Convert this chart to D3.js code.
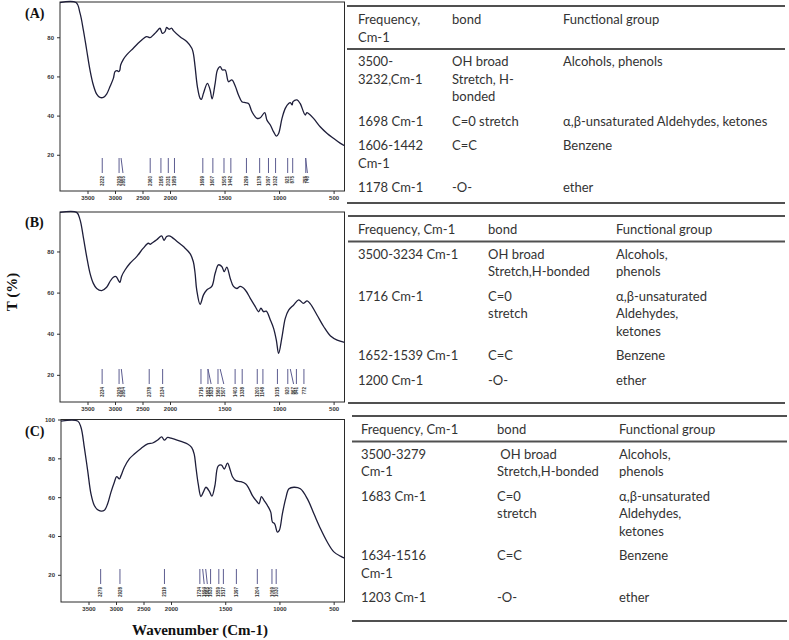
<!DOCTYPE html>
<html>
<head>
<meta charset="utf-8">
<script src="https://cdn.jsdelivr.net/npm/d3@7"></script>
<style>
  body { margin: 0; background: #fff; }
  svg text { font-family: Arial, "Liberation Sans", sans-serif; }
</style>
</head>
<body>
<script>
// ---- spectra, [wavenumber, T %] ----
var specA = [[4000,97.7],[3709,97.7],[3636,92.3],[3576,83.8],[3515,73.5],[3455,63.3],[3394,55.6],[3333,51],[3273,49.3],[3212,49.3],[3152,51],[3091,54.8],[3030,59],[3000,62.4],[2960,63],[2939,62.5],[2915,63],[2897,65.8],[2848,68.7],[2788,71],[2667,74.4],[2545,77.8],[2424,80.3],[2364,79.8],[2303,81.2],[2242,82.9],[2182,84.6],[2140,82],[2091,82.9],[2061,85],[2018,84.1],[1984,84.6],[1969,83.4],[1908,80.3],[1847,77.8],[1800,74.4],[1786,71.8],[1770,65],[1749,54.8],[1724,48.8],[1712,48.3],[1693,51.4],[1657,56.5],[1632,53.1],[1614,48.5],[1586,56.5],[1565,63.3],[1540,65],[1519,63.3],[1494,63.3],[1463,57.3],[1433,58.2],[1402,55.1],[1372,50.5],[1341,47.1],[1310,46.6],[1280,46.2],[1249,42],[1203,38.6],[1172,38.9],[1132,41.5],[1111,37.7],[1080,35.2],[1050,31.7],[1025,29.5],[1004,30.9],[973,38.6],[943,43.7],[912,46.2],[897,46.6],[880,45.5],[872,47.1],[835,48],[807,46.2],[760,40.3],[745,41.5],[730,41.1],[684,38.6],[623,34.3],[559,30.9],[498,28.3],[437,25.8],[400,24.6]];

var specB = [[4000,99],[3697,99],[3636,95.5],[3576,87],[3515,77.5],[3455,69.5],[3394,64.5],[3333,62],[3242,61],[3152,62.6],[3091,65.4],[3030,67.5],[2982,67.8],[2939,66],[2909,65],[2879,68],[2818,71],[2727,74.3],[2606,77.5],[2485,81.6],[2394,84],[2360,83.5],[2333,84],[2242,85.7],[2152,87.6],[2109,85.4],[2061,87.3],[2018,87.6],[1984,87],[1938,85],[1877,82.4],[1816,79],[1786,75],[1770,69.4],[1755,61.3],[1724,54.3],[1693,58.9],[1663,61.3],[1617,63],[1586,69.4],[1556,73.5],[1525,72.7],[1503,70.2],[1479,72.4],[1448,67],[1418,63],[1387,62],[1356,63],[1310,61.3],[1264,57.2],[1218,53.2],[1188,50.7],[1166,52.4],[1142,50.7],[1117,51],[1080,46.7],[1050,42.6],[1025,36.9],[1004,30.4],[973,38.5],[943,47.5],[912,51.5],[866,54],[820,56.5],[776,54.8],[743,56],[713,54.5],[651,49],[590,43.4],[528,38.9],[467,36.9],[400,35.8]];

var specC = [[4000,99.2],[3697,99.2],[3636,95.9],[3576,85.6],[3515,73.7],[3455,61.7],[3394,55.7],[3333,53.5],[3273,52.8],[3212,53.2],[3152,56.6],[3091,62.6],[3030,67.7],[2988,70.6],[2939,69.4],[2909,71.1],[2848,75.4],[2758,79.7],[2667,82.2],[2545,85.1],[2424,87.4],[2333,87.9],[2242,89.4],[2170,91.1],[2121,89.4],[2061,90.8],[2000,90.4],[1969,89.9],[1908,88.7],[1847,87.4],[1810,85.6],[1786,82.2],[1770,75.4],[1749,66.8],[1724,60.3],[1702,62.6],[1678,65.1],[1647,63.1],[1623,60.5],[1595,66],[1565,76],[1534,76.5],[1509,74.5],[1479,77.5],[1454,74],[1433,70.5],[1402,68.5],[1356,68],[1310,66.8],[1280,64.3],[1249,60.8],[1203,57.4],[1188,56.6],[1166,60.3],[1142,58.3],[1111,55.7],[1080,52.3],[1065,47.2],[1044,46.3],[1019,42],[1001,42.9],[973,51.4],[943,59.1],[912,64.3],[866,65.1],[807,64.3],[742,59.1],[682,51.4],[621,43.7],[559,36.9],[498,31.8],[437,29.6],[400,28.6]];

// marked peaks (cm-1); lean = wavenumber where a slanted marker starts
var peaksA = [3232, 2926, 2855, 2360, 2165, 2031, 1959, 1699, 1607, 1505, 1442, 1299, 1178, 1097, 1032, 921, 875, 755, 740];
var leanA = {2855: 2890, 740: 757};
var peaksB = [3234, 2926, 2854, 2378, 2134, 1716, 1652, 1623, 1560, 1507, 1403, 1338, 1200, 1148, 1015, 920, 867, 841, 772];
var leanB = {2854: 2885, 1623: 1652, 1507: 1540, 867: 897};
var peaksC = [3279, 2928, 2119, 1734, 1694, 1665, 1635, 1559, 1517, 1397, 1204, 1069, 1030];
var leanC = {1694: 1708, 1665: 1680};

var xTicks = [3500, 3000, 2500, 2000, 1500, 1000, 500];

// ---- tables ----
var colHeads = ["bond", "Functional group"];
var freqHeadA = "Frequency,\nCm-1";
var freqHeadBC = "Frequency, Cm-1";
var rowsA = [
  ["3500-\n3232,Cm-1", "OH broad\nStretch, H-\nbonded", "Alcohols, phenols"],
  ["1698 Cm-1", "C=0 stretch", "α,β-unsaturated Aldehydes, ketones"],
  ["1606-1442\nCm-1", "C=C", "Benzene"],
  ["1178 Cm-1", "-O-", "ether"]
];
var rowsB = [
  ["3500-3234 Cm-1", "OH broad\nStretch,H-bonded", "Alcohols,\nphenols"],
  ["1716 Cm-1", "C=0\nstretch", "α,β-unsaturated\nAldehydes,\nketones"],
  ["1652-1539 Cm-1", "C=C", "Benzene"],
  ["1200 Cm-1", "-O-", "ether"]
];
var rowsC = [
  ["3500-3279\nCm-1", " OH broad\nStretch,H-bonded", "Alcohols,\nphenols"],
  ["1683 Cm-1", "C=0\nstretch", "α,β-unsaturated\nAldehydes,\nketones"],
  ["1634-1516\nCm-1", "C=C", "Benzene"],
  ["1203 Cm-1", "-O-", "ether"]
];

var width = 789, height = 640;
var svg = d3.select("body").append("svg").attr("width", width).attr("height", height);

var panels = [
  { name: "(A)", spec: specA, peaks: peaksA, lean: leanA, left: 60, right: 344.5, top: 2, bottom: 191, yDomain: [1.5, 98], yTicks: [20, 40, 60, 80], labelY: 18 },
  { name: "(B)", spec: specB, peaks: peaksB, lean: leanB, left: 60, right: 344.5, top: 212, bottom: 402, yDomain: [6.8, 99.2], yTicks: [20, 40, 60, 80], labelY: 227 },
  { name: "(C)", spec: specC, peaks: peaksC, lean: leanC, left: 61, right: 344.5, top: 419.5, bottom: 602, yDomain: [6, 100], yTicks: [20, 40, 60, 80, 100], labelY: 436 }
];

panels.forEach(function (p) {
  var x = d3.scaleLinear().domain([4000, 2000, 400]).range([p.left, p.left + 110, p.right]);
  var y = d3.scaleLinear().domain(p.yDomain).range([p.bottom, p.top]);
  var g = svg.append("g");

  var xAxis = g.append("g").attr("transform", `translate(0,${p.bottom})`)
    .call(d3.axisBottom(x).tickValues(xTicks).tickSize(3).tickPadding(2).tickFormat(d3.format("d")));
  var yAxis = g.append("g").attr("transform", `translate(${p.left},0)`)
    .call(d3.axisLeft(y).tickValues(p.yTicks).tickSize(3).tickPadding(3));
  [xAxis, yAxis].forEach(function (a) {
    a.select(".domain").remove();
    a.selectAll("line").attr("stroke", "#333");
    a.selectAll("text").attr("font-size", 6).attr("fill", "#333").attr("font-weight", "bold");
  });

  g.append("rect")
    .attr("x", p.left).attr("y", p.top)
    .attr("width", p.right - p.left).attr("height", p.bottom - p.top)
    .attr("fill", "none").attr("stroke", "#2a2a2a").attr("stroke-width", 1);

  var line = d3.line()
    .x(function (d) { return x(d[0]); })
    .y(function (d) { return y(d[1]); })
    .curve(d3.curveCatmullRom.alpha(0.5));

  g.append("path").datum(p.spec)
    .attr("d", line)
    .attr("fill", "none")
    .attr("stroke", "#1e1e3a")
    .attr("stroke-width", 1.3);

  // peak markers
  g.selectAll(".peak").data(p.peaks).enter().append("line")
    .attr("class", "peak")
    .attr("x1", function (d) { return x(p.lean[d] || d); })
    .attr("x2", function (d) { return x(d); })
    .attr("y1", p.bottom - 33)
    .attr("y2", p.bottom - 18)
    .attr("stroke", "#5c5c90")
    .attr("stroke-width", 1);

  g.selectAll(".plab").data(p.peaks).enter().append("text")
    .attr("class", "plab")
    .attr("transform", function (d) { return `translate(${x(d)},${p.bottom - 15}) rotate(-90)`; })
    .attr("dy", "0.35em")
    .attr("text-anchor", "end")
    .attr("font-size", 4.5)
    .attr("font-weight", "bold")
    .attr("fill", "#333")
    .text(function (d) { return d; });

  svg.append("text")
    .attr("x", 25).attr("y", p.labelY)
    .attr("font-weight", "bold")
    .attr("font-size", 14)
    .attr("fill", "#111")
    .style("font-family", "'Liberation Serif', serif")
    .text(p.name);
});

svg.append("text")
  .attr("transform", "translate(17,292) rotate(-90)")
  .attr("text-anchor", "middle")
  .attr("font-weight", "bold")
  .attr("font-size", 15)
  .attr("fill", "#111")
  .style("font-family", "'Liberation Serif', serif")
  .text("T (%)");

svg.append("text")
  .attr("x", 200).attr("y", 635)
  .attr("text-anchor", "middle")
  .attr("font-weight", "bold")
  .attr("font-size", 15)
  .attr("fill", "#111")
  .style("font-family", "'Liberation Serif', serif")
  .text("Wavenumber (Cm-1)");

// ---- tables ----
var lineH = 17.5;
var tables = [
  { head: freqHeadA, rows: rowsA, x0: 347, x1: 785, top: 6, bottom: 203, cols: [358, 452, 563] },
  { head: freqHeadBC, rows: rowsB, x0: 348, x1: 785, top: 216, bottom: 403, cols: [358, 488, 616] },
  { head: freqHeadBC, rows: rowsC, x0: 352, x1: 787, top: 416, bottom: 621, cols: [361, 497, 619] }
];

function cellText(g, str, cx, cy) {
  var t = g.append("text")
    .attr("x", cx).attr("y", cy)
    .attr("font-size", 13)
    .attr("fill", "#333")
    .style("font-family", "Lato, 'Open Sans', sans-serif")
    .style("white-space", "pre");
  str.split("\n").forEach(function (s, i) {
    t.append("tspan").attr("x", cx).attr("dy", i === 0 ? "0.35em" : lineH).text(s);
  });
}

tables.forEach(function (t) {
  var g = svg.append("g");
  var rule = function (yy) {
    g.append("line").attr("x1", t.x0).attr("x2", t.x1).attr("y1", yy).attr("y2", yy)
      .attr("stroke", "#505050").attr("stroke-width", 2.2);
  };
  rule(t.top);
  var hy = t.top + 13.5;
  var headCells = [t.head].concat(colHeads);
  headCells.forEach(function (h, i) { cellText(g, h, t.cols[i], hy); });
  var hLines = t.head.split("\n").length;
  var headRule = hy + (hLines - 1) * lineH + 12;
  rule(headRule);
  var ry = headRule + 12.5;
  t.rows.forEach(function (r) {
    var n = d3.max(r, function (c) { return c.split("\n").length; });
    r.forEach(function (c, i) { cellText(g, c, t.cols[i], ry); });
    ry += n * lineH + 7;
  });
  rule(t.bottom);
});
</script>
</body>
</html>
